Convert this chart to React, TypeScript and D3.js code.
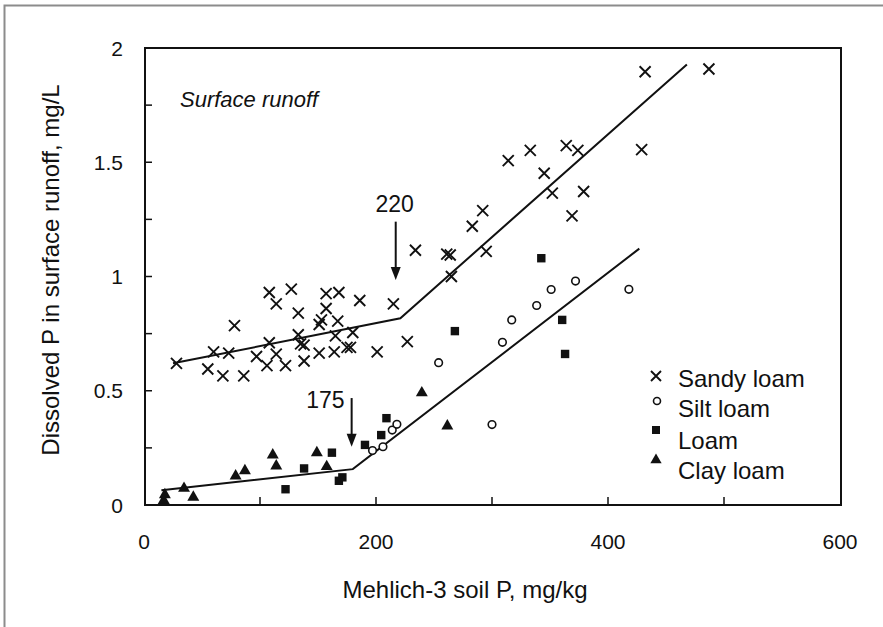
import React from "react";
import * as d3 from "d3";

const sandyLoam: [number, number][] = [
  [28, 0.62], [55, 0.595], [60, 0.67], [68, 0.565], [73, 0.665], [78, 0.785], [86, 0.565],
  [97, 0.65], [106, 0.61], [108, 0.71], [108, 0.93], [114, 0.88], [114, 0.66], [122, 0.61],
  [127, 0.945], [133, 0.84], [133, 0.745], [135, 0.705], [138, 0.70], [138, 0.63], [151, 0.79],
  [153, 0.81], [151, 0.665], [157, 0.925], [157, 0.86], [165, 0.74], [164, 0.67], [167, 0.805],
  [168, 0.93], [175, 0.69], [178, 0.69], [180, 0.755], [186, 0.895], [201, 0.67], [215, 0.88],
  [227, 0.715], [234, 1.115], [261, 1.098], [264, 1.094], [265, 1.0], [283, 1.22], [292, 1.288],
  [295, 1.11], [314, 1.507], [333, 1.552], [345, 1.452], [352, 1.365], [364, 1.573], [369, 1.265],
  [374, 1.552], [379, 1.372], [429, 1.555], [432, 1.896], [487, 1.908],
];
const siltLoam: [number, number][] = [
  [197, 0.238], [206, 0.255], [214, 0.328], [218, 0.353], [254, 0.623], [300, 0.352],
  [309, 0.712], [317, 0.81], [338.5, 0.873], [351, 0.943], [372, 0.98], [418, 0.944],
];
const loam: [number, number][] = [
  [122, 0.069], [138, 0.16], [162, 0.229], [168, 0.106], [171, 0.121], [190.5, 0.263],
  [204.5, 0.306], [209, 0.38], [268, 0.761], [342.5, 1.08], [360.5, 0.81], [363, 0.661],
];
const clayLoam: [number, number][] = [
  [17, 0.02], [18, 0.045], [34.5, 0.073], [42.5, 0.034], [79, 0.127], [87, 0.15], [111, 0.219],
  [114, 0.171], [149, 0.229], [157.5, 0.168], [239.5, 0.491], [261.5, 0.346],
];
const sandyFit: [number, number][] = [[25, 0.62], [221, 0.817], [468, 1.928]];
const otherFit: [number, number][] = [[15, 0.065], [180, 0.157], [427, 1.122]];
const changePoints = [
  { label: "220", x: 217, yFrom: 1.24, yTo: 0.985 },
  { label: "175", x: 179, yFrom: 0.468, yTo: 0.255 },
];
const xTickLabels = [0, 200, 400, 600];
const xTicksMinor = [100, 200, 300, 400, 500];
const yTickLabels = [0, 0.5, 1, 1.5, 2];
const yTicksMinor = [0.25, 0.5, 0.75, 1, 1.25, 1.5, 1.75];
const legendItems = ["Sandy loam", "Silt loam", "Loam", "Clay loam"];

const W = 883, H = 627;
const L = 145, R = 841, T = 48, B = 505;
const FONT = "Liberation Sans, Arial, Helvetica, sans-serif";

export default function App() {
  const x = d3.scaleLinear().domain([0, 600]).range([144, 840]);
  const y = d3.scaleLinear().domain([0, 2]).range([B, T]);
  const line = d3.line<[number, number]>().x(d => x(d[0])).y(d => y(d[1]));
  const tri = d3.symbol().type(d3.symbolTriangle);

  const cross = (cx: number, cy: number, s: number, k: string) => (
    <path key={k} d={`M${cx - s},${cy - s}L${cx + s},${cy + s}M${cx - s},${cy + s}L${cx + s},${cy - s}`}
      stroke="#111" strokeWidth={1.9} fill="none" />
  );

  const legendX = 656;
  const legendRows = [376, 401, 430, 460];
  const legendText = [387, 417, 449, 479];

  return (
    <div style={{ position: "fixed", left: 0, top: 0 }}>
      <svg width={W} height={H} style={{ display: "block", background: "#fff" }} fontFamily={FONT}>
        <rect x={4.5} y={5.5} width={W + 20} height={H + 20} fill="none" stroke="#8c8c8c" strokeWidth={2} />
        {/* plot frame */}
        <rect x={L} y={T} width={R - L} height={B - T} fill="none" stroke="#111" strokeWidth={2} />
        {xTicksMinor.map(v => (
          <line key={"xt" + v} x1={x(v)} x2={x(v)} y1={B} y2={B - 8} stroke="#111" strokeWidth={1.5} />
        ))}
        {yTicksMinor.map(v => (
          <line key={"yt" + v} x1={L} x2={L + 7} y1={y(v)} y2={y(v)} stroke="#111" strokeWidth={1.5} />
        ))}
        {xTickLabels.map(v => (
          <text key={"xl" + v} x={x(v)} y={549} textAnchor="middle" fontSize={21} fill="#111">{v}</text>
        ))}
        {yTickLabels.map(v => (
          <text key={"yl" + v} x={123} y={y(v) + 7.5} textAnchor="end" fontSize={21} fill="#111">{String(v)}</text>
        ))}
        <text x={465} y={598} textAnchor="middle" fontSize={24} fill="#111">Mehlich-3 soil P, mg/kg</text>
        <text transform={`translate(59,${270}) rotate(-90)`} textAnchor="middle" fontSize={24} fill="#111">
          Dissolved P in surface runoff, mg/L
        </text>
        <text x={180} y={107} fontSize={22} fontStyle="italic" fill="#111">Surface runoff</text>

        {/* fitted lines */}
        <path d={line(sandyFit) || ""} fill="none" stroke="#111" strokeWidth={2} />
        <path d={line(otherFit) || ""} fill="none" stroke="#111" strokeWidth={2} />

        {/* data */}
        {sandyLoam.map((d, i) => cross(x(d[0]), y(d[1]), 5.5, "s" + i))}
        {siltLoam.map((d, i) => (
          <circle key={"c" + i} cx={x(d[0])} cy={y(d[1])} r={3.8} fill="#fff" stroke="#111" strokeWidth={1.6} />
        ))}
        {loam.map((d, i) => (
          <rect key={"l" + i} x={x(d[0]) - 4.2} y={y(d[1]) - 4.2} width={8.4} height={8.4} fill="#111" />
        ))}
        {clayLoam.map((d, i) => (
          <path key={"t" + i} d={tri.size(62)() || ""} transform={`translate(${x(d[0])},${y(d[1])})`} fill="#111" />
        ))}

        {/* change-point arrows */}
        {changePoints.map(c => {
          const ax = x(c.x);
          const y0 = y(c.yFrom), y1 = y(c.yTo);
          const is220 = c.label === "220";
          return (
            <g key={c.label}>
              <line x1={ax} x2={ax} y1={y0} y2={y1 - 12} stroke="#111" strokeWidth={2} />
              <path d={`M${ax - 5},${y1 - 13}L${ax + 5},${y1 - 13}L${ax},${y1}Z`} fill="#111" />
              <text x={is220 ? ax - 1 : ax - 7} y={is220 ? y0 - 10 : y0 + 10}
                textAnchor={is220 ? "middle" : "end"} fontSize={23} fill="#111">{c.label}</text>
            </g>
          );
        })}

        {/* legend */}
        {legendItems.map((name, i) => (
          <g key={name}>
            {i === 0 && cross(legendX, legendRows[i], 5, "lg0")}
            {i === 1 && <circle cx={legendX + 1} cy={legendRows[i]} r={3.5} fill="#fff" stroke="#111" strokeWidth={1.6} />}
            {i === 2 && <rect x={legendX - 4} y={legendRows[i] - 4} width={8} height={8} fill="#111" />}
            {i === 3 && <path d={tri.size(55)() || ""} transform={`translate(${legendX},${legendRows[i]})`} fill="#111" />}
            <text x={678} y={legendText[i]} fontSize={24} fill="#111">{name}</text>
          </g>
        ))}
      </svg>
    </div>
  );
}
